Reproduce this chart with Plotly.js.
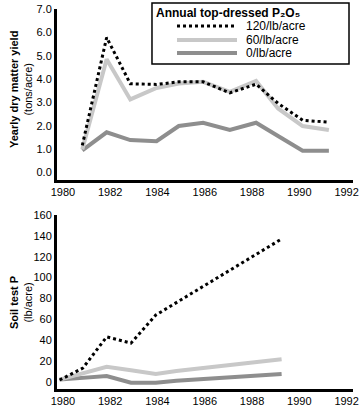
<!DOCTYPE html>
<html>
<head>
<meta charset="utf-8">
<script src="https://cdn.plot.ly/plotly-3.0.1.min.js"></script>
<style>html,body{margin:0;padding:0;background:#fff;}#chart{width:360px;height:407px;}</style>
</head>
<body>
<div id="chart"></div>
<script>
// Top panel: yearly dry matter yield (tons/acre)
var yieldYears = [1980.82, 1981.85, 1982.85, 1983.96, 1984.9, 1985.93, 1987.06, 1988.17, 1989.1, 1990.14, 1991.25];
var yield120 = [1.16, 5.78, 3.8, 3.77, 3.88, 3.88, 3.41, 3.78, 2.96, 2.24, 2.15];
var yield60  = [0.99, 4.85, 3.13, 3.62, 3.81, 3.88, 3.45, 3.92, 2.74, 1.99, 1.82];
var yield0   = [0.95, 1.72, 1.39, 1.34, 1.99, 2.13, 1.82, 2.13, 1.56, 0.93, 0.93];

// Bottom panel: soil test P (lb/acre)
var soilYears = [1979.86, 1980.84, 1981.85, 1982.88, 1983.93, 1984.8, 1989.25];
var soil120 = [1.6, 13, 43, 37, 64, 76, 137];
var soil60  = [2, 8, 14.4, 11, 7.4, 10.3, 21.5];
var soil0   = [2, 4, 5.5, -1, -1, 1, 7.4];

var xTicks = [1980, 1982, 1984, 1986, 1988, 1990, 1992];
var yieldTicks = [0, 1, 2, 3, 4, 5, 6, 7];
var soilTicks = [0, 20, 40, 60, 80, 100, 120, 140, 160];
var seriesNames = ['120/lb/acre', '60/lb/acre', '0/lb/acre'];
var legendTitle = '<b>Annual top-dressed P\u2082O\u2085</b>';
var yieldTitle = '<b>Yearly dry matter yield</b><br>(tons/acre)';
var soilTitle = '<b>Soil test P</b><br>(lb/acre)';

var FONT = '"Liberation Sans", Arial, Helvetica, sans-serif';
var styles = [
  {color: '#000000', width: 3, dash: 'dot'},
  {color: '#c8c8c8', width: 4, dash: 'solid'},
  {color: '#8e8e8e', width: 4, dash: 'solid'}
];

var yieldSeries = [yield120, yield60, yield0];
var soilSeries = [soil120, soil60, soil0];
var traces = [];
// draw order: 0 first (bottom), then 60, then 120 on top
[2, 1, 0].forEach(function (i) {
  traces.push({x: yieldYears, y: yieldSeries[i], type: 'scatter', mode: 'lines',
    name: seriesNames[i], line: styles[i], xaxis: 'x', yaxis: 'y', showlegend: false});
});
[2, 1, 0].forEach(function (i) {
  traces.push({x: soilYears, y: soilSeries[i], type: 'scatter', mode: 'lines',
    name: seriesNames[i], line: styles[i], xaxis: 'x2', yaxis: 'y2', showlegend: false});
});

function xAxis(anchor) {
  return {anchor: anchor, range: [1979.75, 1992.27], tickvals: xTicks, ticks: '',
    showgrid: false, zeroline: false, showline: true, linecolor: '#000', linewidth: 3,
    tickfont: {family: FONT, size: 11, color: '#000'}, fixedrange: true};
}

// Legend box (drawn in paper coordinates, like a Plotly legend)
var box = {x0: 0.3209, x1: 0.9865, y0: 0.853, y1: 1.0131};
var rowY = [0.9528, 0.9160, 0.8819];
var shapes = [{type: 'rect', xref: 'paper', yref: 'paper', x0: box.x0, x1: box.x1, y0: box.y0, y1: box.y1,
  line: {color: '#000', width: 1.5}, fillcolor: '#fff', layer: 'above'}];
var annotations = [{xref: 'paper', yref: 'paper', x: 0.331, y: 0.9868, xanchor: 'left', yanchor: 'middle',
  text: legendTitle, showarrow: false, borderpad: 0, font: {family: FONT, size: 12, color: '#000'}}];
seriesNames.forEach(function (n, i) {
  shapes.push({type: 'line', xref: 'paper', yref: 'paper', x0: 0.4054, x1: 0.6081, y0: rowY[i], y1: rowY[i],
    line: {color: styles[i].color, width: styles[i].width, dash: styles[i].dash}, layer: 'above'});
  annotations.push({xref: 'paper', yref: 'paper', x: 0.6351, y: rowY[i], xanchor: 'left', yanchor: 'middle',
    text: n, showarrow: false, borderpad: 0, font: {family: FONT, size: 12, color: '#000'}});
});
// Y axis titles
annotations.push({xref: 'paper', yref: 'paper', x: -0.1216, y: 0.7848, xanchor: 'center', yanchor: 'middle',
  textangle: -90, text: yieldTitle, showarrow: false, font: {family: FONT, size: 11, color: '#000'}});
annotations.push({xref: 'paper', yref: 'paper', x: -0.1216, y: 0.2257, xanchor: 'center', yanchor: 'middle',
  textangle: -90, text: soilTitle, showarrow: false, font: {family: FONT, size: 11, color: '#000'}});

var layout = {
  width: 360, height: 407,
  margin: {l: 57, r: 7, t: 8, b: 18},
  paper_bgcolor: '#fff', plot_bgcolor: '#fff',
  font: {family: FONT, color: '#000', size: 11},
  showlegend: false,
  xaxis: xAxis('y'),
  xaxis2: xAxis('y2'),
  yaxis: {domain: [0.5486, 0.9974], range: [-0.32, 7.0], tickvals: yieldTicks, tickformat: '.1f',
    ticks: '', showgrid: false, zeroline: false, showline: true, linecolor: '#000', linewidth: 3,
    tickfont: {family: FONT, size: 11, color: '#000'}},
  yaxis2: {domain: [0, 0.4567], range: [-7, 160], tickvals: soilTicks,
    ticks: '', showgrid: false, zeroline: false, showline: true, linecolor: '#000', linewidth: 3,
    tickfont: {family: FONT, size: 11, color: '#000'}},
  shapes: shapes,
  annotations: annotations
};

Plotly.newPlot('chart', traces, layout, {displayModeBar: false, staticPlot: true});
</script>
</body>
</html>
